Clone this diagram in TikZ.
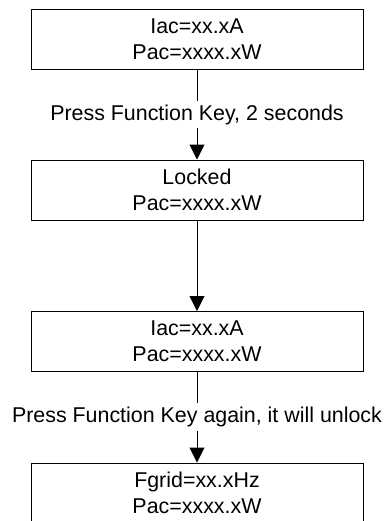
\documentclass[tikz,border=0pt]{standalone}
\usepackage{fontspec}
\setmainfont{Liberation Sans}
\usetikzlibrary{arrows.meta}

\begin{document}
\begin{tikzpicture}[x=0.5pt,y=-0.5pt,
  screen/.style={draw,line width=0.5pt,minimum width=166pt,minimum height=30pt,align=center,inner sep=0pt,font=\fontsize{10.7}{12.9}\selectfont},
  flow/.style={-{Triangle[length=7.5pt,width=7.5pt]},line width=0.5pt},
  keynote/.style={fill=white,inner sep=2pt,font=\fontsize{10.7}{12.9}\selectfont}]
\useasboundingbox (0,0) rectangle (386,521);
\clip (0,0) rectangle (386,521);
% display screens
\node[screen] (iac) at (197,39) {Iac=xx.xA\\Pac=xxxx.xW};
\node[screen] (locked) at (197,190) {Locked\\Pac=xxxx.xW};
\node[screen] (iacb) at (197,341.5) {Iac=xx.xA\\Pac=xxxx.xW};
\node[screen] (fgrid) at (197,493) {Fgrid=xx.xHz\\Pac=xxxx.xW};
% key presses
\draw[flow] (iac) -- node[keynote]{Press Function Key, 2 seconds} (locked);
\draw[flow] (locked) -- (iacb);
\draw[flow] (iacb) -- node[keynote]{Press Function Key again, it will unlock} (fgrid);
\end{tikzpicture}
\end{document}
